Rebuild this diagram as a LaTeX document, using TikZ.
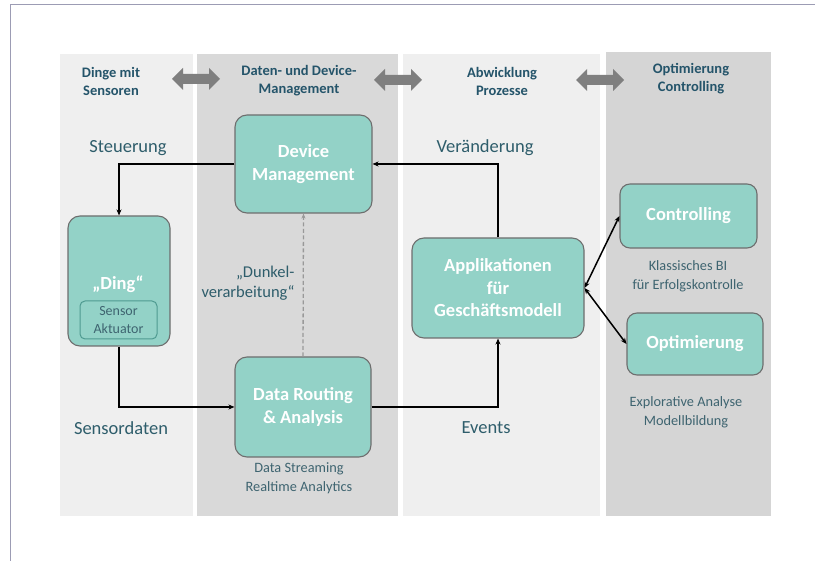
\documentclass[tikz,border=0pt]{standalone}
\usepackage{fontspec}
\setmainfont{Carlito}
\usetikzlibrary{arrows.meta,calc}

\definecolor{framecol}{HTML}{9C9CB4}
\definecolor{bandlight}{HTML}{EFEFEF}
\definecolor{banddark}{HTML}{D9D9D9}
\definecolor{tealfill}{HTML}{93D2C7}
\definecolor{boxline}{HTML}{6E6E6E}
\definecolor{innerline}{HTML}{4E9A90}
\definecolor{labeltxt}{HTML}{2E5D6B}
\definecolor{notetxt}{HTML}{3E6470}
\definecolor{headtxt}{HTML}{24546A}
\definecolor{blockarrow}{HTML}{7F7F7F}

\tikzset{
  procbox/.style={draw=boxline, line width=1.1pt, fill=tealfill, rounded corners=12pt,
    text=white, font=\fontsize{18.5}{22.5}\selectfont\bfseries, align=center, inner sep=0pt},
  innerbox/.style={draw=innerline, line width=1pt, fill=tealfill, rounded corners=5pt,
    text=notetxt, font=\fontsize{14}{18}\selectfont, align=center, inner sep=0pt},
  header/.style={text=headtxt, font=\fontsize{14.5}{18}\selectfont\bfseries, align=center},
  flowlabel/.style={text=labeltxt, font=\fontsize{18.5}{22}\selectfont, align=center},
  note/.style={text=notetxt, font=\fontsize{14.3}{19}\selectfont, align=center},
  flow/.style={line width=1.5pt, draw=black, -{Stealth[length=6pt,width=5pt]}},
  biflow/.style={line width=1.5pt, draw=black, {Stealth[length=6pt,width=5pt]}-{Stealth[length=6pt,width=5pt]}},
  darkflow/.style={line width=1.3pt, draw=gray!80, dashed, dash pattern=on 4pt off 2.5pt,
    -{Stealth[length=5pt,width=4pt]}},
}

% fat grey two-way arrow centred at (#1,#2)
\newcommand{\fatarrow}[2]{%
  \fill[blockarrow] (#1-24,#2) -- (#1-13,#2-11) -- (#1-13,#2-5) -- (#1+13,#2-5)
    -- (#1+13,#2-11) -- (#1+24,#2) -- (#1+13,#2+11) -- (#1+13,#2+5)
    -- (#1-13,#2+5) -- (#1-13,#2+11) -- cycle;}

\begin{document}
\begin{tikzpicture}[x=1pt,y=-1pt]
  \useasboundingbox (0,0) rectangle (815,561);

  % outer frame lines
  \draw[framecol, line width=1pt] (10,561) -- (10,5) -- (815,5);

  % column bands
  \fill[bandlight] (60,54) rectangle (193,516);
  \fill[banddark]  (197,54) rectangle (398,516);
  \fill[bandlight] (403,54) rectangle (600,516);
  \fill[banddark!98!black]  (606,52) rectangle (771,516);

  % column headers
  \node[header] (h1) at (111,81) {Dinge mit\\Sensoren};
  \node[header] (h2) at (299,81) {Daten- und Device-\\Management};
  \node[header] (h3) at (502,81) {Abwicklung\\Prozesse};
  \node[header] (h4) at (691,79) {Optimierung\\Controlling};

  % block arrows between headers
  \fatarrow{196}{79}
  \fatarrow{398}{80}
  \fatarrow{600}{80}

  % process boxes
  \node[procbox, minimum width=137pt, minimum height=98pt] (dm) at (303.5,164) {Device\\Management};
  \node[procbox, minimum width=136pt, minimum height=100pt] (dr) at (303,407) {Data Routing\\\& Analysis};
  \node[procbox, minimum width=102pt, minimum height=130pt] (ding) at (119,281) {};
  \node[text=white, font=\fontsize{18.5}{22}\selectfont\bfseries] (dingtxt) at (118,284) {„Ding“};
  \node[innerbox, minimum width=77pt, minimum height=38pt] (sens) at (118.5,320) {Sensor\\Aktuator};
  \node[procbox, minimum width=172pt, minimum height=100pt] (appl) at (498,288) {Applikationen\\für\\Geschäftsmodell};
  \node[procbox, rounded corners=10pt, minimum width=137pt, minimum height=64pt] (ctrl) at (688.5,216) {Controlling};
  \node[procbox, rounded corners=10pt, minimum width=136pt, minimum height=62pt] (opt) at (695,344) {Optimierung};

  % flow labels
  \node[flowlabel] (steu) at (128,148) {Steuerung};
  \node[flowlabel] (veraend) at (485,148) {Veränderung};
  \node[flowlabel] (sdaten) at (121,428) {Sensordaten};
  \node[flowlabel] (events) at (486,428) {Events};
  \node[flowlabel, font=\fontsize{16.5}{20}\selectfont, align=right, anchor=east] (dunkel) at (298,283) {„Dunkel-\\verarbeitung“};

  % notes under boxes
  \node[note] (drnote) at (299,478) {Data Streaming\\Realtime Analytics};
  \node[note] (ctrlnote) at (688,276) {Klassisches BI\\für Erfolgskontrolle};
  \node[note] (optnote) at (686,412) {Explorative Analyse\\Modellbildung};

  % connectors
  \draw[flow] (dm.west) -| (ding.north);
  \draw[flow] (ding.south) |- (dr.west);
  \draw[flow] (dr.east) -| (appl.south);
  \draw[flow] (appl.north) |- (dm.east);
  \draw[darkflow] (dr.north) -- (dm.south);
  \draw[biflow] (appl.east) -- (ctrl.west);
  \draw[biflow] (appl.east) -- (opt.west);
\end{tikzpicture}
\end{document}
